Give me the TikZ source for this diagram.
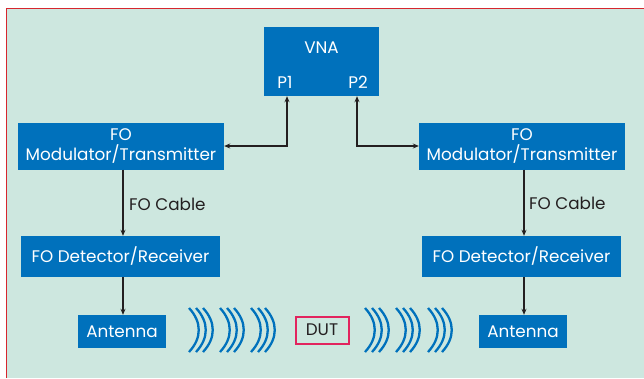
\documentclass[tikz,border=0pt]{standalone}
\usepackage{fontspec}
\setmainfont{Poppins}
\usetikzlibrary{arrows.meta}
\definecolor{bggreen}{HTML}{CDE7DF}
\definecolor{boxblue}{HTML}{0071BC}
\definecolor{framered}{HTML}{D7262E}
\definecolor{dutred}{HTML}{E2245E}
\definecolor{ink}{HTML}{231F20}
\tikzset{
  bluebox/.style={fill=boxblue, draw=none, text=white, inner sep=0pt, font=\fontsize{16.8}{20}\selectfont, align=center},
  wlabel/.style={text=white, inner sep=0pt, font=\fontsize{16.8}{20}\selectfont},
  arr/.style={draw=ink, line width=1.1pt, -{Stealth[length=6pt,width=5pt]}},
  arrb/.style={draw=ink, line width=1.1pt, {Stealth[length=6pt,width=5pt]}-{Stealth[length=6pt,width=5pt]}},
  wave/.style={draw=boxblue, line width=2.3pt},
  plain/.style={text=ink, inner sep=0pt, font=\fontsize{16.8}{20}\selectfont}
}
\begin{document}
\begin{tikzpicture}[x=1pt,y=-1pt]
\useasboundingbox (0,0) rectangle (644,378);
\fill[bggreen] (6,8) rectangle (644,378);
\draw[framered, line width=1pt] (6,378) -- (6,8) -- (644,8);
% boxes
\node[bluebox, minimum width=115pt, minimum height=69pt] (vna) at (321.5,61.5) {};
\node[wlabel] (vnat) at (321.5,48) {VNA};
\node[wlabel] (p1t) at (285,82) {P1};
\node[wlabel] (p2t) at (358,82) {P2};
\node[bluebox, minimum width=206pt, minimum height=47pt] (lm) at (121,146) {FO\\Modulator/Transmitter};
\node[bluebox, minimum width=199pt, minimum height=41pt] (ld) at (120.5,256.5) {FO Detector/Receiver};
\node[bluebox, minimum width=88pt, minimum height=33pt] (la) at (122,331.5) {Antenna};
\node[bluebox, minimum width=206pt, minimum height=47pt] (rm) at (522,146) {FO\\Modulator/Transmitter};
\node[bluebox, minimum width=199pt, minimum height=41pt] (rd) at (521.5,256.5) {FO Detector/Receiver};
\node[bluebox, minimum width=88pt, minimum height=33pt] (ra) at (523,331.5) {Antenna};
\node[draw=dutred, line width=2pt, fill=bggreen, text=ink, inner sep=0pt, minimum width=53pt, minimum height=27pt, font=\fontsize{16.8}{20}\selectfont] (dut) at (322,330) {DUT};
% labels
\node[plain, anchor=west] (lc) at (129,204) {FO Cable};
\node[plain, anchor=west] (rc) at (529,203) {FO Cable};
% connectors
\coordinate (lx) at (123,0);
\coordinate (rx) at (524,0);
\coordinate (p1x) at (287,0);
\coordinate (p2x) at (357,0);
\draw[arr] (lm.south -| lx) -- (ld.north -| lx);
\draw[arr] (ld.south -| lx) -- (la.north -| lx);
\draw[arr] (rm.south -| rx) -- (rd.north -| rx);
\draw[arr] (rd.south -| rx) -- (ra.north -| rx);
\draw[arrb] (vna.south -| p1x) |- (lm.east);
\draw[arrb] (vna.south -| p2x) |- (rm.west);
% waves
\foreach \g in {189,220,251,365,396,428}{
  \foreach \k in {0,7,14}{
    \draw[wave] (\g+\k,308) .. controls (\g+\k+13,322) and (\g+\k+13,338) .. (\g+\k,352);
  }
}
\end{tikzpicture}
\end{document}
